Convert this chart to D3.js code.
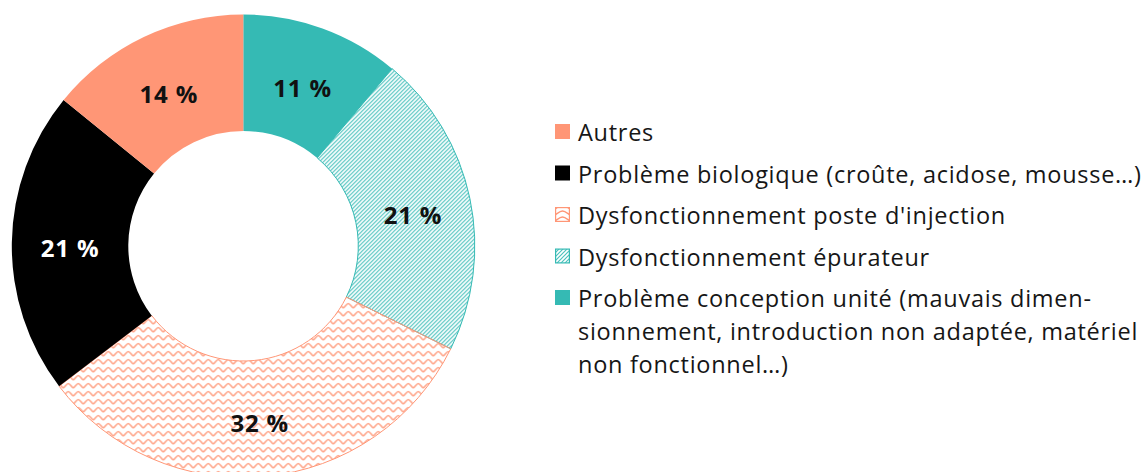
<!DOCTYPE html>
<html lang="fr">
<head>
<meta charset="utf-8">
<script src="https://cdn.jsdelivr.net/npm/d3@7"></script>
<style>
  html, body { margin: 0; padding: 0; background: #fff; }
  svg { display: block; }
</style>
</head>
<body>
<svg id="chart" width="1147" height="472"></svg>
<script>
// Causes d'incidents, part en %
const categories = [
  "Problème conception unité",
  "Dysfonctionnement épurateur",
  "Dysfonctionnement poste d'injection",
  "Problème biologique",
  "Autres"
];
const values = [11, 21, 32, 21, 14];
const fills = ["solid", "stripes", "zigzag", "solid", "solid"];
const colors = ["#35BAB4", "#35BAB4", "#FF9676", "#000000", "#FF9676"];
const labelColors = ["#111", "#111", "#111", "#fff", "#111"];

// Libellés de légende (même ordre que categories), lignes déjà coupées
const legendLines = [
  ["Problème conception unité (mauvais dimen-",
   "sionnement, introduction non adaptée, matériel",
   "non fonctionnel…)"],
  ["Dysfonctionnement épurateur"],
  ["Dysfonctionnement poste d'injection"],
  ["Problème biologique (croûte, acidose, mousse…)"],
  ["Autres"]
];
// La légende se lit dans l'ordre inverse du graphique
const legendOrder = [4, 3, 2, 1, 0];

const svg = d3.select("#chart");
const defs = svg.append("defs");

// Hachures diagonales
const stripes = defs.append("pattern")
  .attr("id", "pat-stripes")
  .attr("patternUnits", "userSpaceOnUse")
  .attr("width", 4).attr("height", 4);
stripes.append("path")
  .attr("d", "M-1,1 l2,-2 M0,4 l4,-4 M3,5 l2,-2")
  .attr("stroke", "#4CC2BD").attr("stroke-width", 1.2).attr("fill", "none");

// Zigzag
const zig = defs.append("pattern")
  .attr("id", "pat-zigzag")
  .attr("patternUnits", "userSpaceOnUse")
  .attr("width", 10).attr("height", 8);
zig.append("path")
  .attr("d", "M0,6 C2,4.5 3.5,1.5 5,1.5 C6.5,1.5 8,4.5 10,6")
  .attr("stroke", "#FFA88D").attr("stroke-width", 1.7).attr("fill", "none");

// Motif plus grand pour la légende
const zigL = defs.append("pattern")
  .attr("id", "pat-zigzag-legend")
  .attr("patternUnits", "userSpaceOnUse")
  .attr("width", 15).attr("height", 6)
  .attr("x", 555);
zigL.append("path")
  .attr("d", "M0,5 C3,3 5,1 7.5,1 C10,1 12,3 15,5")
  .attr("stroke", colors[2]).attr("stroke-width", 1.4).attr("fill", "none");

function fillFor(i, legend) {
  if (fills[i] === "stripes") return "url(#pat-stripes)";
  if (fills[i] === "zigzag") return legend ? "url(#pat-zigzag-legend)" : "url(#pat-zigzag)";
  return colors[i];
}

const cx = 243.3, cy = 246;
const outerR = 231.5, innerR = 115;

const pie = d3.pie().sort(null).value(d => d)(values);
const arc = d3.arc().innerRadius(innerR).outerRadius(outerR);
const labelArc = d3.arc().innerRadius((innerR + outerR) / 2).outerRadius((innerR + outerR) / 2);

const g = svg.append("g").attr("transform", `translate(${cx},${cy})`);

g.selectAll("path.slice")
  .data(pie)
  .join("path")
  .attr("class", "slice")
  .attr("d", arc)
  .attr("fill", (d, i) => fillFor(i, false))
  .attr("stroke", (d, i) => fills[i] === "solid" ? "none" : colors[i])
  .attr("stroke-width", 1);

g.selectAll("text.value")
  .data(pie)
  .join("text")
  .attr("class", "value")
  .attr("transform", d => `translate(${labelArc.centroid(d)})`)
  .attr("text-anchor", "middle")
  .attr("dy", "0.56em")
  .attr("font-family", "'Open Sans', sans-serif")
  .attr("font-weight", 700)
  .attr("font-size", 24)
  .attr("letter-spacing", 0.8)
  .attr("fill", (d, i) => labelColors[i])
  .text(d => `${d.data} %`);

// Légende
const legendX = 555, textX = 578;
const itemGap = 41.5, lineGap = 33;
const firstBaseline = 141;
const legendFont = 23.5;
const legendWidth = 563; // largeur de la plus longue ligne

const legend = svg.append("g");
let y = firstBaseline;
legendOrder.forEach(i => {
  const item = legend.append("g");
  const isPattern = fills[i] !== "solid";
  if (isPattern) {
    item.append("rect")
      .attr("x", legendX + 0.6).attr("y", y - 16.4)
      .attr("width", 13.8).attr("height", 13.8)
      .attr("fill", "#fff");
    item.append("rect")
      .attr("x", legendX + 0.6).attr("y", y - 16.4)
      .attr("width", 13.8).attr("height", 13.8)
      .attr("fill", fillFor(i, true))
      .attr("stroke", colors[i]).attr("stroke-width", 1.2);
  } else {
    item.append("rect")
      .attr("x", legendX).attr("y", y - 17)
      .attr("width", 15).attr("height", 15)
      .attr("fill", colors[i]);
  }
  legendLines[i].forEach((line, k) => {
    item.append("text")
      .attr("class", "legend-text")
      .attr("x", textX)
      .attr("y", y + k * lineGap)
      .attr("font-family", "'Open Sans', sans-serif")
      .attr("font-size", legendFont)
      .attr("fill", "#161616")
      .text(line);
  });
  y += itemGap + (legendLines[i].length - 1) * lineGap;
});

// Espacement des lettres ajusté pour que la ligne la plus longue atteigne la largeur voulue
const texts = legend.selectAll("text.legend-text").nodes();
let widest = null, widestW = 0;
texts.forEach(t => {
  const w = t.getComputedTextLength();
  if (w > widestW) { widestW = w; widest = t; }
});
const spacing = (legendWidth - widestW) / Math.max(1, widest.textContent.length - 1);
legend.selectAll("text.legend-text").attr("letter-spacing", spacing);
</script>
</body>
</html>
